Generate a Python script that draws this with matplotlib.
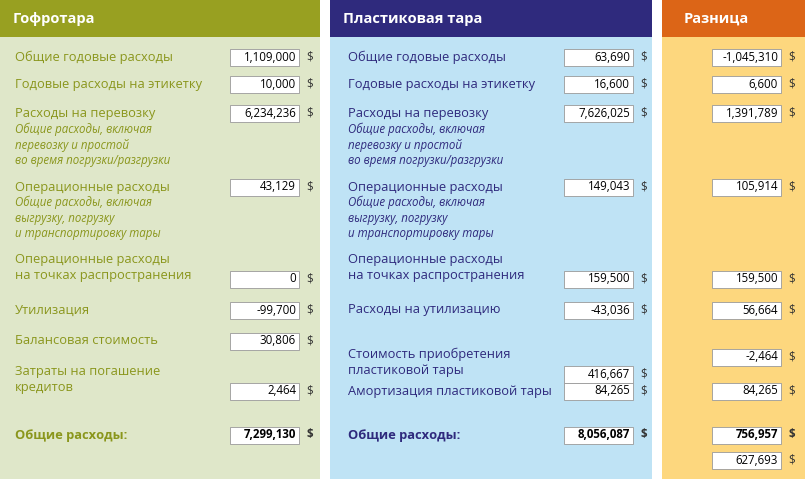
import matplotlib
matplotlib.use("Agg")
import matplotlib.pyplot as plt
from matplotlib.patches import Rectangle

plt.rcParams['font.family'] = ['Open Sans', 'DejaVu Sans']

headers = ["Гофротара", "Пластиковая тара", "Разница"]

corr_labels = ["Общие годовые расходы", "Годовые расходы на этикетку", "Расходы на перевозку",
               "Операционные расходы", "Операционные расходы\nна точках распространения",
               "Утилизация", "Балансовая стоимость", "Затраты на погашение\nкредитов"]
corr_values = ["1,109,000", "10,000", "6,234,236", "43,129", "0", "-99,700", "30,806", "2,464"]
corr_total = "7,299,130"

plast_labels = ["Общие годовые расходы", "Годовые расходы на этикетку", "Расходы на перевозку",
                "Операционные расходы", "Операционные расходы\nна точках распространения",
                "Расходы на утилизацию", "Стоимость приобретения\nпластиковой тары",
                "Амортизация пластиковой тары"]
plast_values = ["63,690", "16,600", "7,626,025", "149,043", "159,500", "-43,036", "416,667", "84,265"]
plast_total = "8,056,087"

diff_values = ["-1,045,310", "6,600", "1,391,789", "105,914", "159,500", "56,664", "-2,464", "84,265"]
diff_total = "756,957"
diff_extra = "627,693"

notes = ["Общие расходы, включая\nперевозку и простой\nво время погрузки/разгрузки",
         "Общие расходы, включая\nвыгрузку, погрузку\nи транспортировку тары"]
total_label = "Общие расходы:"

fig = plt.figure(figsize=(8.05, 4.79), dpi=100)
ax = fig.add_axes([0, 0, 1, 1])
ax.set_xlim(0, 805); ax.set_ylim(479, 0); ax.axis('off')

cols = [(0, 320, "#98a021", "#dfe7c9", "#8a961c"),
        (330, 652, "#2f2a7d", "#bfe3f5", "#2f2a7d"),
        (662, 805, "#dc6517", "#fdd77e", "#000000")]
for (x0, x1, hc, bc, tc), h in zip(cols, headers):
    ax.add_patch(Rectangle((x0, 0), x1 - x0, 479, color=bc, lw=0))
    ax.add_patch(Rectangle((x0, 0), x1 - x0, 37, color=hc, lw=0))
    ax.text(x0 + (13 if x0 < 600 else 22), 19, h, color='white', fontsize=10.5,
            fontweight='bold', va='center')

def box(x, y, s, bold=False):
    ax.add_patch(Rectangle((x, y - 8.5), 69, 17, facecolor='white', edgecolor='#999999', lw=0.6))
    ax.text(x + 66, y, s, fontsize=8.3, ha='right', va='center',
            fontweight='bold' if bold else 'normal', color='black')
    ax.text(x + 76, y, "$", fontsize=8.3, va='center',
            fontweight='bold' if bold else 'normal', color='#333333')

def label(x, y, lab, color):
    multi = '\n' in lab
    ax.text(x, y - 9 if multi else y, lab, fontsize=9.3, color=color,
            va='top' if multi else 'center', linespacing=1.3)

corr_label_y = [57, 84, 113, 187, 262, 310, 341, 374]
corr_box_y = [57, 84, 113, 187, 279, 310, 341, 391]
plast_label_y = [57, 84, 113, 187, 262, 310, 357, 391]
plast_box_y = [57, 84, 113, 187, 279, 310, 374, 391]
diff_box_y = [57, 84, 113, 187, 279, 310, 357, 391]
note_y = [130, 203]

for lab, y in zip(corr_labels, corr_label_y):
    label(15, y, lab, cols[0][4])
for v, y in zip(corr_values, corr_box_y):
    box(230, y, v)
for lab, y in zip(plast_labels, plast_label_y):
    label(348, y, lab, cols[1][4])
for v, y in zip(plast_values, plast_box_y):
    box(564, y, v)
for v, y in zip(diff_values, diff_box_y):
    box(712, y, v)
for n, y in zip(notes, note_y):
    ax.text(15, y - 7, n, fontsize=8.3, style='italic', color=cols[0][4], va='top', linespacing=1.25)
    ax.text(348, y - 7, n, fontsize=8.3, style='italic', color=cols[1][4], va='top', linespacing=1.25)

ax.text(15, 435, total_label, fontsize=9.3, fontweight='bold', color=cols[0][4], va='center')
ax.text(348, 435, total_label, fontsize=9.3, fontweight='bold', color=cols[1][4], va='center')
box(230, 435, corr_total, True)
box(564, 435, plast_total, True)
box(712, 435, diff_total, True)
box(712, 460, diff_extra)

fig.savefig("out.png", dpi=100)
